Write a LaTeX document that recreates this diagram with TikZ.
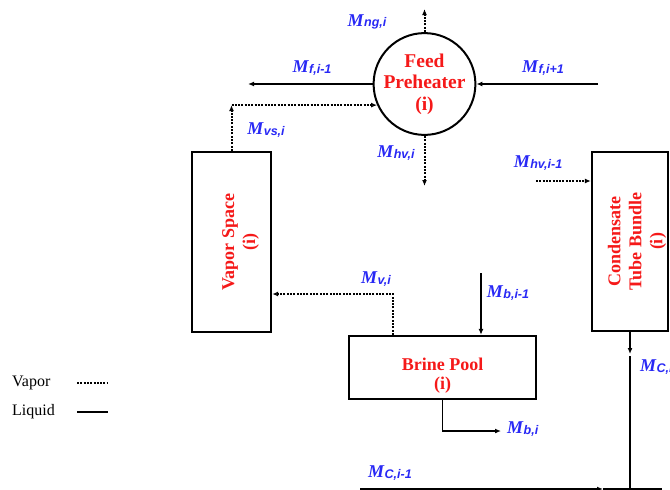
\documentclass[tikz,border=0pt]{standalone}
\usepackage{fontspec}
\setmainfont{Liberation Serif}
\newfontfamily\subfont{Liberation Sans}
\usetikzlibrary{arrows.meta,positioning,calc}
\definecolor{flowblue}{RGB}{40,40,245}
\definecolor{unitred}{RGB}{245,25,25}
\newcommand{\mflow}[1]{\textbf{\textit{M}}{\subfont\bfseries\itshape\fontsize{12.5}{12.5}\selectfont\raisebox{-0.8pt}{#1}}}

\begin{document}
\begin{tikzpicture}[
    x=1pt, y=-1pt,
    unit/.style={draw, line width=2.4pt, inner sep=0pt},
    unittext/.style={text=unitred, font=\fontsize{18}{21}\selectfont\bfseries, align=center},
    vap/.style={line width=2pt, dash pattern=on 2pt off 1.3pt, -{Latex[length=6pt,width=5pt]}},
    hollow/.style={-{Latex[open,length=6pt,width=5pt]}},
    liq/.style={line width=1.6pt, -{Latex[length=6pt,width=5pt]}},
    flow/.style={text=flowblue, font=\fontsize{18}{18}\selectfont, inner sep=0pt},
    legend/.style={font=\fontsize{16}{16}\selectfont, inner sep=0pt}
]
    \useasboundingbox (0,0) rectangle (670,490);
    \clip (0,0) rectangle (670,490);

    % units
    \node[unit, circle, line width=2pt, minimum size=89, unittext, font=\fontsize{19.5}{21.5}\selectfont\bfseries] (fp) at (424.5,84) {Feed\\Preheater\\(i)};
    \node[unit, minimum width=79, minimum height=180] (vs) at (231.5,242) {};
    \node[unittext, rotate=90] (vslbl) at ([xshift=9pt]vs.center) {Vapor Space\\(i)};
    \node[unit, minimum width=76, minimum height=179] (ctb) at (630,241.5) {};
    \node[unittext, rotate=90] (ctblbl) at ([xshift=7pt]ctb.center) {Condensate\\Tube Bundle\\(i)};
    \node[unit, minimum width=187, minimum height=63] (bp) at (442.5,367.5) {};
    \node[unittext, font=\fontsize{18}{19}\selectfont\bfseries] (bplbl) at ([yshift=-8pt]bp.center) {Brine Pool\\(i)};

    % free ends
    \coordinate (ngend) at (424.5,9);
    \coordinate (fout) at (248,84);
    \coordinate (fin) at (598,84);
    \coordinate (hvend) at (424.5,186);
    \coordinate (hvin) at (536,181);
    \coordinate (vbend) at (393,294);
    \coordinate (bin) at (481,273);
    \coordinate (bout) at (501,431);
    \coordinate (cin) at (360,489);
    \coordinate (carr) at (603,489);
    \coordinate (cend) at (662,489);
    \coordinate (cmid) at (630,354);

    % streams
    \draw[vap] (fp.north) -- (ngend);
    \draw[liq] (fp.west) -- (fout);
    \draw[liq] (fin) -- (fp.east);
    \draw[vap] (vs.north) -- (vs.north |- fp.204);
    \draw[vap, hollow] (vs.north |- fp.204) -- (fp.204);
    \draw[vap] (fp.south) -- (hvend);
    \draw[vap] (hvin) -- (hvin -| ctb.west);
    \draw[vap, hollow] (bp.north -| vbend) -- (vbend) -- (vbend -| vs.east);
    \draw[liq] (bin) -- (bin |- bp.north);
    \draw[liq] (bp.south) |- (bout);
    \draw[liq] (cin) -- (carr);
    \draw[line width=1.6pt] (carr) -- (cend);
    \draw[liq] (ctb.south) -- (cmid);
    \draw[line width=1.6pt] ([yshift=-2pt]cmid) -- (cmid |- cin);

    % stream labels
    \node[flow] (ngl) at (367,22) {\mflow{ng,i}};
    \node[flow] (fol) at (312,68) {\mflow{f,i-1}};
    \node[flow] (fil) at (543,68) {\mflow{f,i+1}};
    \node[flow] (vsl) at (266,130) {\mflow{vs,i}};
    \node[flow] (hvl) at (396,153) {\mflow{hv,i}};
    \node[flow] (hvil) at (538,163) {\mflow{hv,i-1}};
    \node[flow] (vl) at (376,279) {\mflow{v,i}};
    \node[flow] (bil) at (508,293) {\mflow{b,i-1}};
    \node[flow, anchor=west] (bol) at (507,429) {\mflow{b,i}};
    \node[flow] (cil) at (390,473) {\mflow{C,i-1}};
    \node[flow, anchor=west] (col) at (640,367) {\mflow{C,i}};

    % legend
    \node[legend, anchor=west] (vlg) at (12,383) {Vapor};
    \node[legend, anchor=west] (llg) at (12,412) {Liquid};
    \draw[vap, -, line width=2.6pt] (77,383) -- (108,383);
    \draw[line width=2.6pt] (77,412) -- (108,412);
\end{tikzpicture}
\end{document}
